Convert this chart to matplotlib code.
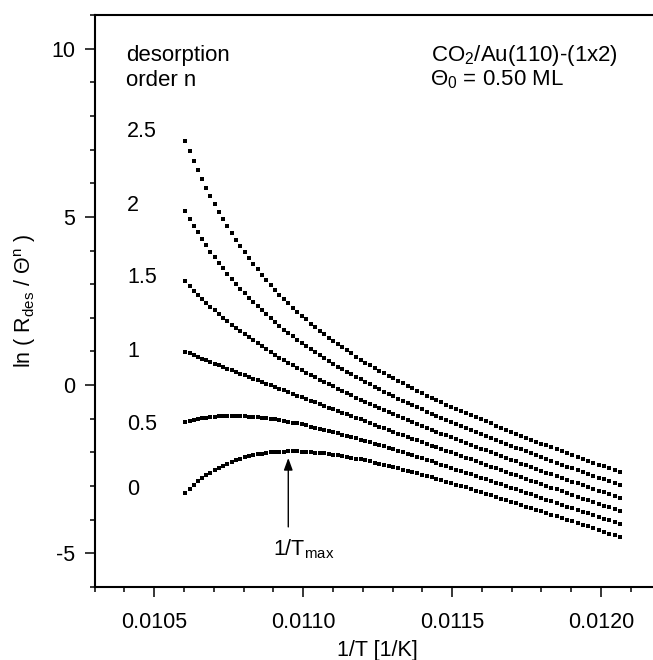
import numpy as np
import matplotlib
matplotlib.use("Agg")
import matplotlib.pyplot as plt
from matplotlib.ticker import MultipleLocator, FormatStrFormatter

plt.rcParams['font.family'] = ['Liberation Sans', 'DejaVu Sans']
plt.rcParams['mathtext.fontset'] = 'custom'
plt.rcParams['mathtext.rm'] = 'Liberation Sans'
plt.rcParams['mathtext.it'] = 'Liberation Sans'
plt.rcParams['axes.unicode_minus'] = False

FS = 15.5

# sample temperatures of the TPD ramp [K]
temperature_k = [
    94.300, 94.176, 94.052, 93.928, 93.804, 93.680, 93.556, 93.432, 93.308, 93.184,
    93.060, 92.936, 92.812, 92.688, 92.564, 92.440, 92.316, 92.192, 92.068, 91.944,
    91.820, 91.696, 91.572, 91.448, 91.324, 91.200, 91.076, 90.952, 90.828, 90.704,
    90.580, 90.456, 90.332, 90.208, 90.084, 89.960, 89.836, 89.712, 89.588, 89.464,
    89.340, 89.216, 89.092, 88.968, 88.844, 88.720, 88.596, 88.472, 88.348, 88.224,
    88.100, 87.976, 87.852, 87.728, 87.604, 87.480, 87.356, 87.232, 87.108, 86.984,
    86.860, 86.736, 86.612, 86.488, 86.364, 86.240, 86.116, 85.992, 85.868, 85.744,
    85.620, 85.496, 85.372, 85.248, 85.124, 85.000, 84.876, 84.752, 84.628, 84.504,
    84.380, 84.256, 84.132, 84.008, 83.884, 83.760, 83.636, 83.512, 83.388, 83.264,
    83.140, 83.016, 82.892]

# ln(R_des / Theta^n) for the desorption orders n
ln_n25 = [
    7.26, 6.95, 6.66, 6.39, 6.12, 5.86, 5.62, 5.38, 5.15, 4.93,
    4.72, 4.52, 4.32, 4.13, 3.95, 3.77, 3.60, 3.44, 3.28, 3.13,
    2.98, 2.83, 2.69, 2.56, 2.43, 2.30, 2.18, 2.06, 1.95, 1.83,
    1.72, 1.61, 1.51, 1.41, 1.31, 1.21, 1.12, 1.03, 0.94, 0.85,
    0.76, 0.67, 0.59, 0.51, 0.43, 0.35, 0.27, 0.20, 0.12, 0.05,
    -0.03, -0.10, -0.17, -0.24, -0.31, -0.38, -0.44, -0.51, -0.58, -0.64,
    -0.71, -0.77, -0.83, -0.90, -0.96, -1.02, -1.08, -1.14, -1.21, -1.26,
    -1.33, -1.38, -1.44, -1.50, -1.56, -1.62, -1.68, -1.74, -1.79, -1.85,
    -1.91, -1.96, -2.02, -2.08, -2.14, -2.19, -2.25, -2.30, -2.36, -2.41,
    -2.47, -2.53, -2.58]
ln_n20 = [
    5.17, 4.95, 4.74, 4.54, 4.34, 4.15, 3.97, 3.80, 3.63, 3.47,
    3.31, 3.16, 3.01, 2.87, 2.73, 2.60, 2.47, 2.34, 2.22, 2.10,
    1.98, 1.87, 1.76, 1.65, 1.55, 1.45, 1.35, 1.25, 1.16, 1.07,
    0.98, 0.89, 0.80, 0.72, 0.63, 0.55, 0.47, 0.39, 0.32, 0.24,
    0.17, 0.09, 0.02, -0.05, -0.12, -0.19, -0.26, -0.33, -0.40, -0.47,
    -0.53, -0.60, -0.66, -0.72, -0.79, -0.85, -0.91, -0.97, -1.04, -1.10,
    -1.16, -1.22, -1.28, -1.34, -1.40, -1.45, -1.51, -1.57, -1.63, -1.69,
    -1.74, -1.80, -1.86, -1.91, -1.97, -2.03, -2.08, -2.14, -2.20, -2.25,
    -2.31, -2.36, -2.42, -2.47, -2.53, -2.58, -2.64, -2.69, -2.75, -2.80,
    -2.86, -2.91, -2.97]
ln_n15 = [
    3.08, 2.94, 2.81, 2.69, 2.57, 2.45, 2.33, 2.22, 2.11, 2.00,
    1.90, 1.80, 1.70, 1.60, 1.51, 1.42, 1.33, 1.24, 1.15, 1.07,
    0.99, 0.90, 0.82, 0.75, 0.67, 0.59, 0.52, 0.44, 0.37, 0.30,
    0.23, 0.16, 0.09, 0.02, -0.04, -0.11, -0.17, -0.24, -0.30, -0.37,
    -0.43, -0.49, -0.55, -0.62, -0.68, -0.74, -0.80, -0.86, -0.92, -0.98,
    -1.03, -1.09, -1.15, -1.21, -1.27, -1.32, -1.38, -1.44, -1.49, -1.55,
    -1.61, -1.66, -1.72, -1.77, -1.83, -1.89, -1.94, -2.00, -2.05, -2.11,
    -2.16, -2.22, -2.27, -2.33, -2.38, -2.43, -2.49, -2.54, -2.60, -2.65,
    -2.71, -2.76, -2.81, -2.87, -2.92, -2.98, -3.03, -3.08, -3.14, -3.19,
    -3.25, -3.30, -3.35]
ln_n10 = [
    0.99, 0.94, 0.89, 0.84, 0.79, 0.74, 0.69, 0.64, 0.59, 0.54,
    0.49, 0.44, 0.39, 0.34, 0.29, 0.24, 0.19, 0.14, 0.09, 0.04,
    -0.01, -0.06, -0.11, -0.16, -0.21, -0.26, -0.31, -0.36, -0.41, -0.46,
    -0.51, -0.57, -0.62, -0.67, -0.72, -0.77, -0.82, -0.87, -0.92, -0.97,
    -1.02, -1.08, -1.13, -1.18, -1.23, -1.28, -1.33, -1.38, -1.44, -1.49,
    -1.54, -1.59, -1.64, -1.69, -1.74, -1.80, -1.85, -1.90, -1.95, -2.00,
    -2.06, -2.11, -2.16, -2.21, -2.26, -2.32, -2.37, -2.42, -2.47, -2.53,
    -2.58, -2.63, -2.68, -2.74, -2.79, -2.84, -2.89, -2.95, -3.00, -3.05,
    -3.10, -3.16, -3.21, -3.26, -3.32, -3.37, -3.42, -3.47, -3.53, -3.58,
    -3.63, -3.69, -3.74]
ln_n05 = [
    -1.11, -1.07, -1.04, -1.01, -0.99, -0.97, -0.95, -0.94, -0.93, -0.92,
    -0.92, -0.92, -0.92, -0.92, -0.93, -0.94, -0.95, -0.96, -0.97, -0.99,
    -1.01, -1.02, -1.05, -1.07, -1.09, -1.12, -1.14, -1.17, -1.20, -1.23,
    -1.26, -1.29, -1.32, -1.36, -1.39, -1.43, -1.47, -1.50, -1.54, -1.58,
    -1.62, -1.66, -1.70, -1.74, -1.78, -1.82, -1.87, -1.91, -1.95, -2.00,
    -2.04, -2.09, -2.13, -2.18, -2.22, -2.27, -2.32, -2.36, -2.41, -2.46,
    -2.51, -2.55, -2.60, -2.65, -2.70, -2.75, -2.80, -2.85, -2.90, -2.95,
    -3.00, -3.05, -3.10, -3.15, -3.20, -3.25, -3.30, -3.35, -3.40, -3.45,
    -3.50, -3.55, -3.61, -3.66, -3.71, -3.76, -3.81, -3.86, -3.92, -3.97,
    -4.02, -4.07, -4.13]
ln_n00 = [
    -3.20, -3.08, -2.97, -2.86, -2.77, -2.68, -2.60, -2.52, -2.45, -2.39,
    -2.33, -2.28, -2.23, -2.19, -2.15, -2.11, -2.08, -2.06, -2.04, -2.02,
    -2.00, -1.99, -1.98, -1.98, -1.97, -1.97, -1.97, -1.98, -1.99, -1.99,
    -2.01, -2.02, -2.03, -2.05, -2.07, -2.09, -2.11, -2.14, -2.16, -2.19,
    -2.21, -2.24, -2.27, -2.30, -2.33, -2.37, -2.40, -2.44, -2.47, -2.51,
    -2.55, -2.58, -2.62, -2.66, -2.70, -2.74, -2.79, -2.83, -2.87, -2.91,
    -2.96, -3.00, -3.04, -3.09, -3.14, -3.18, -3.23, -3.27, -3.32, -3.37,
    -3.42, -3.46, -3.51, -3.56, -3.61, -3.66, -3.71, -3.75, -3.80, -3.85,
    -3.90, -3.95, -4.00, -4.05, -4.10, -4.15, -4.20, -4.26, -4.31, -4.36,
    -4.41, -4.46, -4.51]

orders = ["2.5", "2", "1.5", "1", "0.5", "0"]
series = [ln_n25, ln_n20, ln_n15, ln_n10, ln_n05, ln_n00]

inv_tmax = 0.01095   # 1/T at the rate maximum

inv_t = 1.0 / np.asarray(temperature_k)

fig = plt.figure(figsize=(6.53, 6.60), dpi=100)
ax = fig.add_axes([0.1450, 0.1106, 0.8666, 0.8667])

for ys in series:
    ax.plot(inv_t, ys, linestyle='none', marker='s', markersize=2.5,
            color='black', markeredgewidth=0)

ax.set_xlim(0.0103, 0.0122)
ax.set_ylim(-6, 11)
ax.xaxis.set_major_locator(MultipleLocator(0.0005))
ax.xaxis.set_minor_locator(MultipleLocator(0.0001))
ax.xaxis.set_major_formatter(FormatStrFormatter('%.4f'))
ax.yaxis.set_major_locator(MultipleLocator(5))
ax.yaxis.set_minor_locator(MultipleLocator(1))

ax.spines['right'].set_visible(False)
for side in ('left', 'bottom', 'top'):
    ax.spines[side].set_linewidth(1.5)

ax.tick_params(which='major', direction='out', length=7.2, width=1.1,
               labelsize=FS, top=False, right=False)
ax.tick_params(which='minor', direction='out', length=3.6, width=1.1,
               top=False, right=False)
ax.tick_params(axis='x', which='major', pad=11)
ax.tick_params(axis='y', which='major', pad=7)

ax.set_xlabel('1/T [1/K]', fontsize=FS, labelpad=5)
ax.set_ylabel(r'ln ( R$_{\rm des}$ / Θ$^{\rm n}$ )', fontsize=FS, labelpad=9)

# order labels beside each series
label_base = [7.36, 5.16, 3.03, 0.83, -1.34, -3.26]
for lab, yl in zip(orders, label_base):
    ax.text(0.0104085, yl, lab, fontsize=FS, ha='left', va='baseline')

# header lines (baselines in data units)
line1, line2 = 9.644, 8.90
ax.text(0.0104051, line1, 'desorption', fontsize=16, ha='left', va='baseline')
ax.text(0.0104051, line2, 'order n', fontsize=16, ha='left', va='baseline')
ax.text(0.0114293, line1, r'CO$_{\rm 2}$/Au(110)-(1x2)', fontsize=16,
        ha='left', va='baseline')
ax.text(0.0114260, line2, r'Θ$_{\rm 0}$ = 0.50 ML', fontsize=16,
        ha='left', va='baseline')

ax.annotate('', xy=(inv_tmax, -2.166), xytext=(inv_tmax, -4.214),
            arrowprops=dict(arrowstyle='-|>,head_length=0.6,head_width=0.22',
                            color='black', lw=1.0, mutation_scale=12,
                            shrinkA=0, shrinkB=0))
ax.text(0.0108987, -5.07, r'1/T$_{\rm max}$', fontsize=FS,
        ha='left', va='baseline')

fig.savefig('out.png', dpi=100)
